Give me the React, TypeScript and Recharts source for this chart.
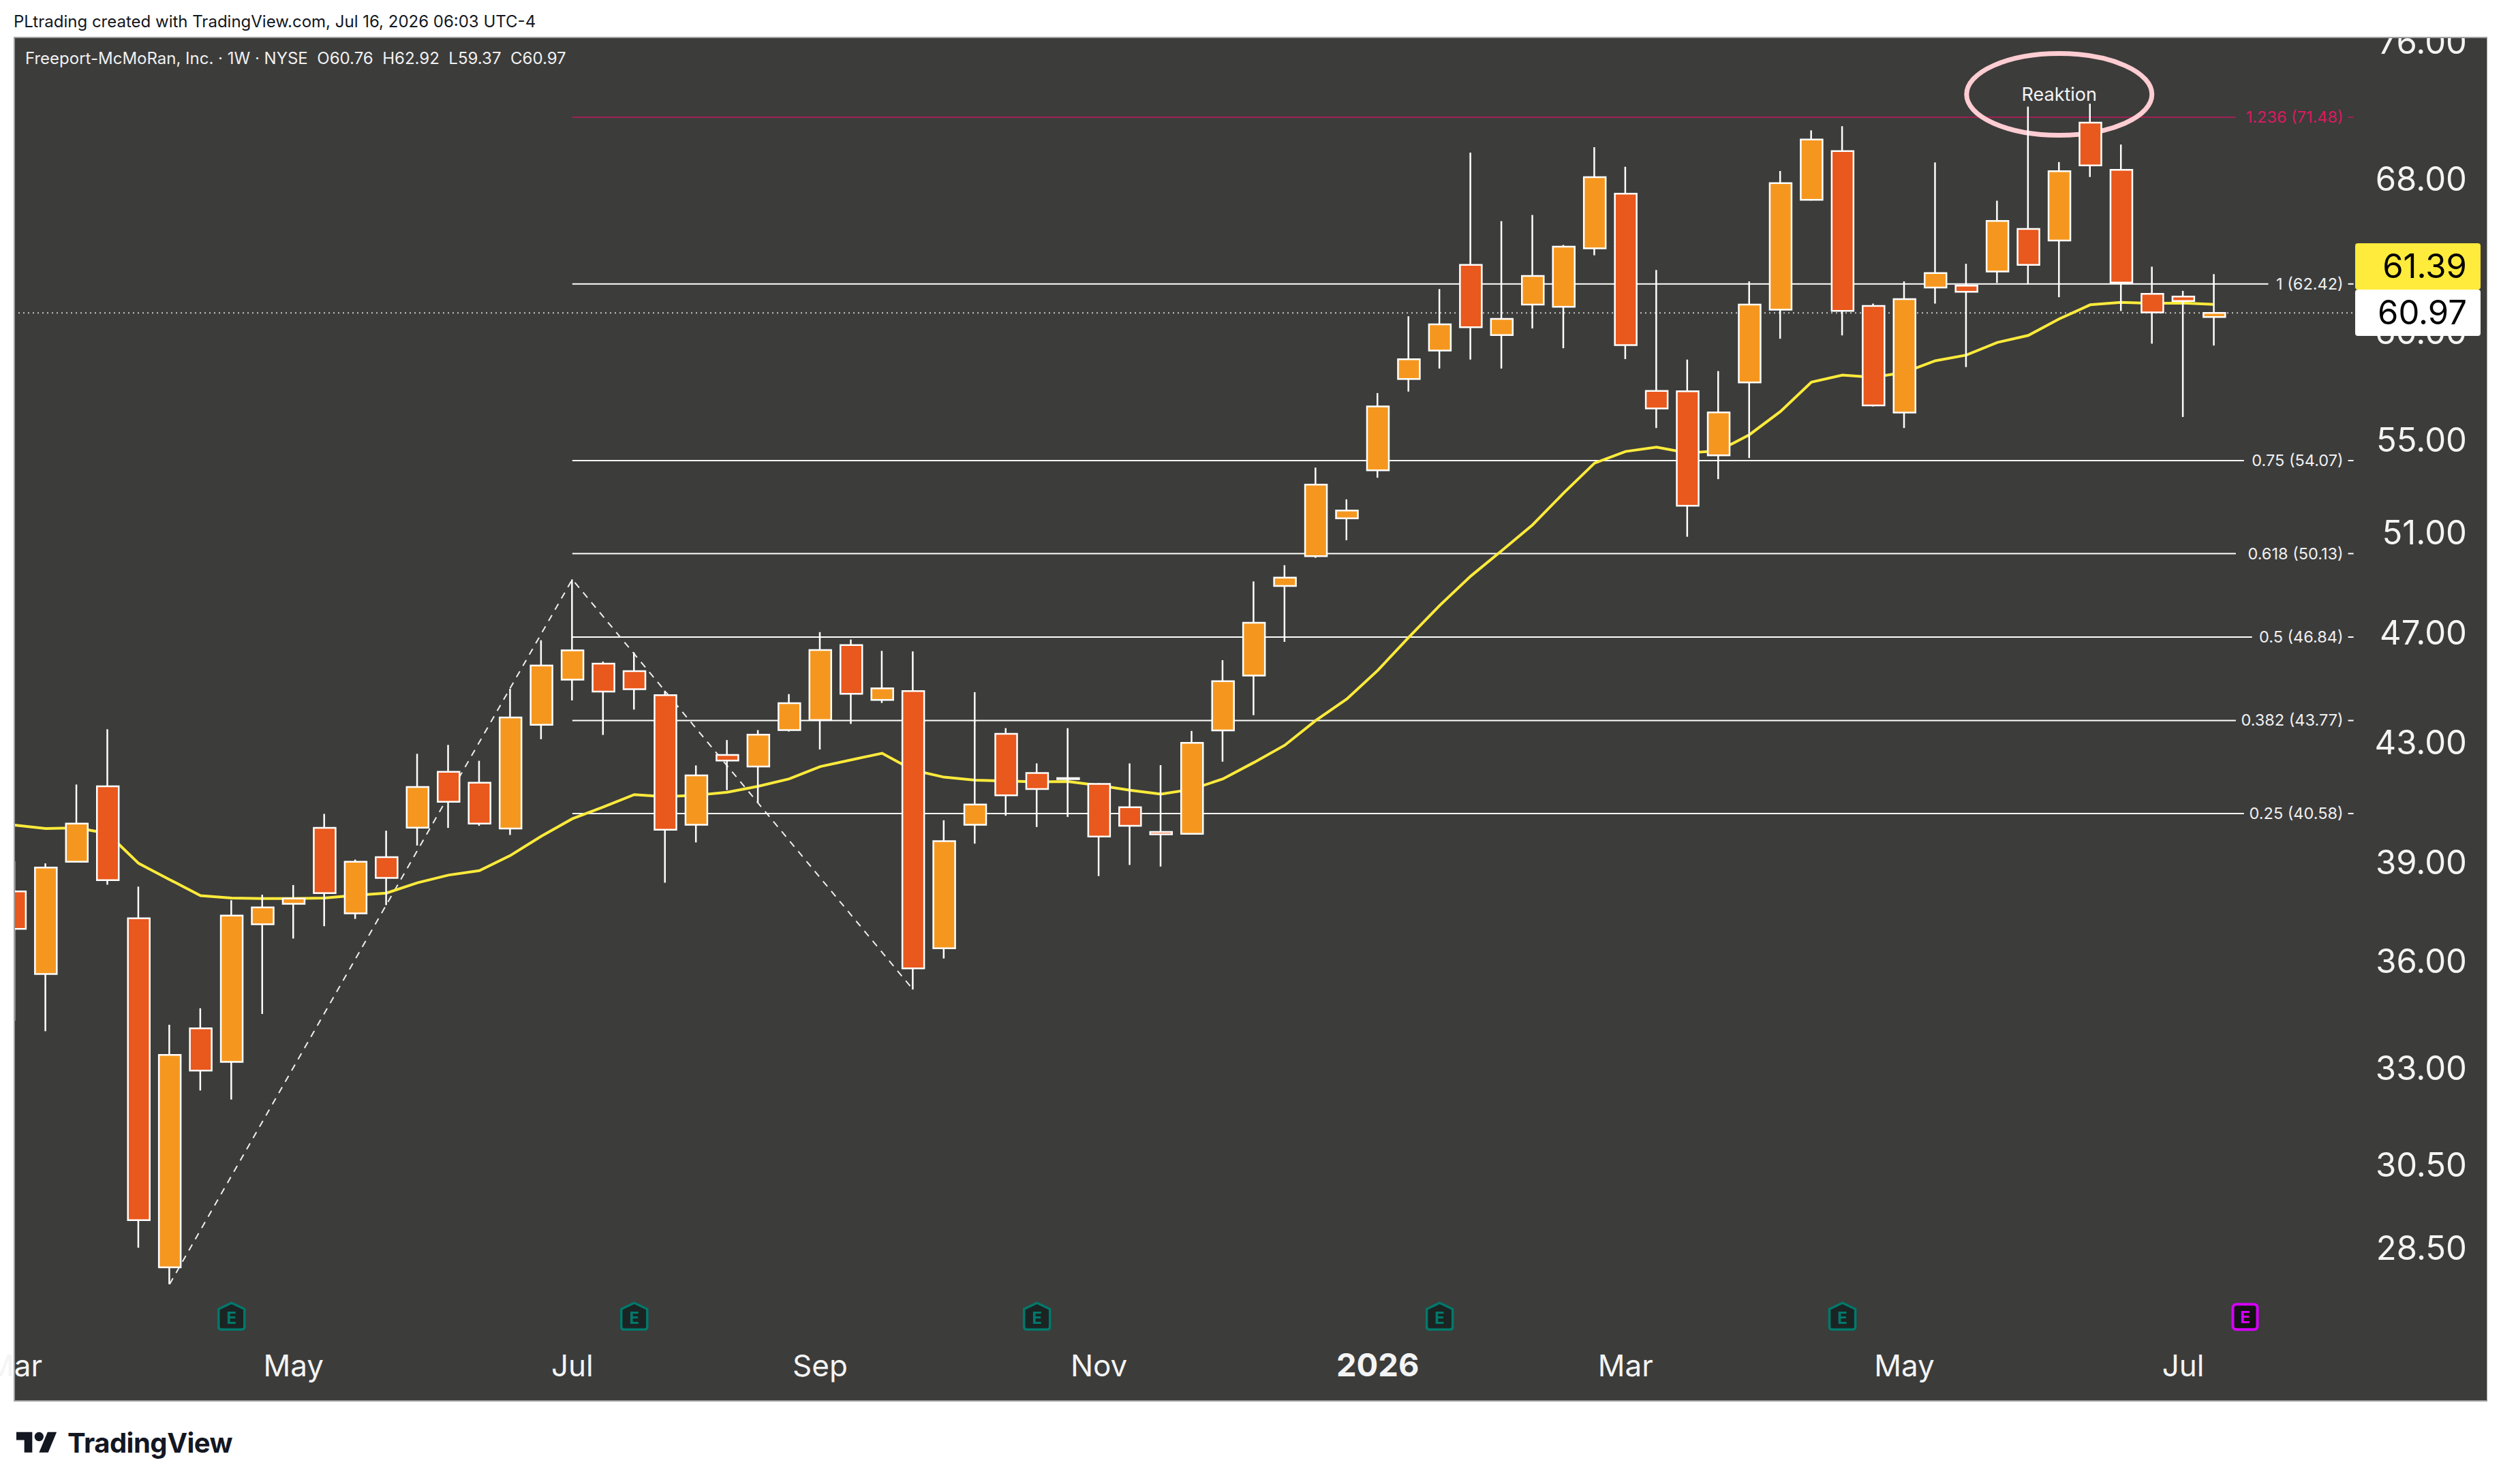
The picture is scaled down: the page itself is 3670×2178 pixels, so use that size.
import { Bar, Cell, ComposedChart, Line, ReferenceDot, ReferenceLine, XAxis, YAxis } from "recharts"

const opens = [38.09, 35.62, 39.02, 41.49, 37.27, 28.06, 34.08, 33.16, 37.09, 37.71, 40.11, 37.42, 39.17, 40.12, 41.98, 41.61, 40.09, 43.62, 45.25, 45.84, 45.56, 44.68, 40.21, 42.56, 42.16, 43.43, 43.79, 46.54, 44.51, 44.83, 36.37, 40.21, 43.30, 41.94, 41.73, 41.57, 40.79, 39.98, 39.92, 43.42, 45.40, 48.83, 50.03, 51.59, 53.64, 57.78, 59.13, 63.39, 59.88, 61.38, 61.27, 64.25, 67.17, 57.22, 57.20, 54.30, 57.62, 61.13, 66.84, 69.54, 61.31, 56.22, 62.24, 62.33, 63.05, 65.27, 64.66, 71.17, 68.49, 61.92, 61.78, 60.76]
const highs = [39.04, 38.97, 41.55, 43.46, 38.24, 34.18, 34.64, 37.82, 37.99, 38.29, 40.57, 39.09, 40.02, 42.60, 42.91, 42.36, 44.91, 46.72, 49.09, 45.92, 46.26, 44.84, 42.20, 43.08, 43.43, 44.72, 47.03, 46.75, 46.32, 46.30, 40.36, 44.79, 43.50, 42.27, 43.50, 41.60, 42.27, 42.21, 43.40, 45.97, 49.01, 49.66, 53.76, 52.39, 57.12, 60.80, 62.16, 69.45, 65.69, 66.02, 64.43, 69.76, 68.66, 63.13, 58.70, 58.15, 62.55, 68.42, 70.72, 70.96, 61.43, 62.55, 68.90, 63.45, 66.79, 72.10, 68.92, 72.27, 69.91, 63.30, 62.07, 62.92]
const lows = [34.29, 34.00, 39.00, 38.30, 28.51, 27.68, 32.40, 32.16, 34.48, 36.66, 37.03, 37.25, 37.67, 39.54, 40.11, 40.18, 39.88, 43.11, 44.49, 43.26, 44.16, 38.36, 39.64, 41.36, 40.95, 43.38, 42.75, 43.65, 44.40, 35.17, 36.07, 39.60, 40.51, 40.14, 40.47, 38.57, 38.92, 38.87, 39.90, 42.33, 43.96, 46.66, 49.96, 50.68, 53.32, 57.19, 58.27, 58.70, 58.27, 60.20, 59.24, 63.89, 58.72, 55.52, 50.82, 53.26, 54.18, 59.70, 66.80, 59.86, 56.50, 55.52, 61.43, 58.34, 62.47, 62.40, 61.75, 68.09, 61.06, 59.46, 56.02, 59.37]
const closes = [36.95, 38.84, 40.25, 38.44, 29.16, 33.35, 32.93, 37.35, 37.60, 37.87, 38.04, 39.02, 38.51, 41.47, 40.97, 40.25, 43.88, 45.77, 46.34, 44.81, 44.90, 40.05, 41.86, 42.37, 43.27, 44.39, 46.35, 44.73, 44.93, 35.78, 39.68, 40.88, 41.19, 41.40, 41.77, 39.83, 40.18, 39.90, 42.98, 45.19, 47.39, 49.16, 53.02, 51.92, 56.50, 58.71, 60.40, 60.26, 60.67, 62.83, 64.34, 68.08, 59.39, 56.41, 52.12, 56.23, 61.38, 67.75, 70.20, 61.07, 56.55, 61.65, 62.97, 62.02, 65.70, 63.39, 68.41, 68.73, 62.49, 60.99, 61.56, 60.97]
const average = [40.20, 40.09, 40.11, 39.93, 38.97, 38.46, 37.96, 37.89, 37.87, 37.87, 37.89, 37.97, 38.04, 38.36, 38.60, 38.74, 39.22, 39.84, 40.41, 40.80, 41.21, 41.14, 41.19, 41.29, 41.49, 41.74, 42.16, 42.39, 42.62, 42.04, 41.80, 41.70, 41.67, 41.64, 41.65, 41.52, 41.36, 41.23, 41.39, 41.74, 42.30, 42.90, 43.77, 44.54, 45.59, 46.83, 48.06, 49.22, 50.25, 51.32, 52.66, 53.96, 54.47, 54.66, 54.41, 54.50, 55.22, 56.27, 57.63, 57.96, 57.86, 58.09, 58.64, 58.91, 59.52, 59.86, 60.67, 61.37, 61.49, 61.44, 61.46, 61.39]

const swingWeeks = [5, 18, 29]
const swingPrices = [27.68, 49.09, 35.17]

const fibStart = 18
const fibEnd = 75.5
const fibPrices = [71.48, 62.42, 54.07, 50.13, 46.84, 43.77, 40.58]
const fibLabels = ["1.236 (71.48)", "1 (62.42)", "0.75 (54.07)", "0.618 (50.13)", "0.5 (46.84)", "0.382 (43.77)", "0.25 (40.58)"]

const priceTicks = [76, 68, 60, 55, 51, 47, 43, 39, 36, 33, 30.5, 28.5]
const monthWeeks = [0, 9, 18, 26, 35, 44, 52, 61, 70]
const monthLabels = ["Mar", "May", "Jul", "Sep", "Nov", "2026", "Mar", "May", "Jul"]
const earningsWeeks = [7, 20, 33, 46, 59]
const nextEarningsWeek = 72

const rows = opens.map((open, i) => {
  const swing = swingWeeks.indexOf(i)
  return {
    week: i,
    body: [Math.min(open, closes[i]), Math.max(open, closes[i])],
    wick: [lows[i], highs[i]],
    average: average[i],
    swing: swing >= 0 ? swingPrices[swing] : null,
  }
})

const FONT = "Inter, sans-serif"
const UP = "#F5971F"
const DOWN = "#E9581C"

function MonthTick({ x, payload }: any) {
  const label = monthLabels[monthWeeks.indexOf(payload.value)]
  return (
    <text x={x} y={2020} textAnchor="middle" fontFamily={FONT} fontSize={label === "2026" ? 47 : 44} fontWeight={label === "2026" ? 700 : 400} fill="#f4f4f4">
      {label}
    </text>
  )
}

function FibLabel({ viewBox, text, color }: any) {
  const end = viewBox.x + viewBox.width
  const w = 11.9 * text.length + 10
  return (
    <g>
      <rect x={end - 8 - w} y={viewBox.y - 14} width={w} height={28} fill="#3c3c3b" />
      <text x={end - 15} y={viewBox.y + 8} textAnchor="end" fontFamily={FONT} fontSize={23.5} fill={color}>
        {text}
      </text>
    </g>
  )
}

function PriceTag({ top, height, fill, text }: any) {
  return (
    <div style={{ position: "absolute", left: 3456, top, width: 184, height, background: fill, borderRadius: 4, zIndex: 2, color: "#000", fontSize: 49, lineHeight: `${height}px`, textAlign: "right", paddingRight: 20, boxSizing: "border-box" }}>
      {text}
    </div>
  )
}

function EarningsMark({ cx, cy }: any) {
  return (
    <g>
      <path
        d={`M${cx} ${cy - 20} L${cx + 19} ${cy - 11} L${cx + 19} ${cy + 15} Q${cx + 19} ${cy + 19} ${cx + 15} ${cy + 19} L${cx - 15} ${cy + 19} Q${cx - 19} ${cy + 19} ${cx - 19} ${cy + 15} L${cx - 19} ${cy - 11} Z`}
        fill="#1b2423"
        stroke="#00796B"
        strokeWidth={3.5}
      />
      <text x={cx} y={cy + 11} textAnchor="middle" fontFamily={FONT} fontSize={24} fontWeight={700} fill="#00796B">E</text>
    </g>
  )
}

function NextEarningsMark({ cx, cy }: any) {
  return (
    <g>
      <rect x={cx - 18} y={cy - 18} width={36} height={37} rx={5} fill="#131313" stroke="#D500F9" strokeWidth={4} />
      <text x={cx} y={cy + 10} textAnchor="middle" fontFamily={FONT} fontSize={24} fontWeight={700} fill="#D500F9">E</text>
    </g>
  )
}

function ReaktionNote({ cx, cy }: any) {
  return (
    <g>
      <ellipse cx={cx} cy={cy} rx={136} ry={60} fill="none" stroke="#FFCDD2" strokeWidth={7} />
      <text x={cx} y={cy + 9} textAnchor="middle" fontFamily={FONT} fontSize={27} fill="#f4f4f4">Reaktion</text>
    </g>
  )
}

export default function App() {
  return (
    <div style={{ position: "absolute", left: 0, top: 0, width: 3670, height: 2178, background: "#fff", overflow: "hidden", fontFamily: FONT }}>
      <div style={{ position: "absolute", left: 20, top: 54, width: 3630, height: 2003, background: "#3c3c3b" }} />
      <div style={{ position: "absolute", left: 0, top: 0, zIndex: 1 }}>
        <ComposedChart width={3670} height={2178} data={rows} margin={{ top: 54, right: 20, bottom: 121, left: 20 }}>
          <XAxis
            xAxisId="main"
            dataKey="week"
            type="number"
            scale="linear"
            domain={[-0.035, 79.82]}
            allowDataOverflow
            ticks={monthWeeks}
            interval={0}
            mirror
            tickLine={false}
            axisLine={false}
            tick={MonthTick}
          />
          <XAxis xAxisId="wicks" dataKey="week" type="number" scale="linear" domain={[-0.035, 79.82]} allowDataOverflow hide />
          <YAxis
            xAxisId="main"
            orientation="right"
            mirror
            scale="log"
            domain={[25.16, 76.31]}
            allowDataOverflow
            ticks={priceTicks}
            interval={0}
            tickLine={false}
            axisLine={false}
            tickSize={0}
            tickMargin={30}
            tickFormatter={(v: number) => v.toFixed(2)}
            tick={{ fill: "#f4f4f4", fontSize: 49, fontFamily: FONT }}
          />

          {fibPrices.map((price, i) => (
            <ReferenceLine
              key={fibLabels[i]}
              xAxisId="main"
              segment={[{ x: fibStart, y: price }, { x: fibEnd, y: price }]}
              stroke={i === 0 ? "#C2185B" : "#fff"}
              strokeWidth={i === 0 ? 1.5 : 2}
              zIndex={100}
              label={<FibLabel text={fibLabels[i]} color={i === 0 ? "#D81B60" : "#f0f0f0"} />}
            />
          ))}
          <ReferenceLine
            xAxisId="main"
            segment={[{ x: -0.035, y: 60.97 }, { x: 75.55, y: 60.97 }]}
            stroke="#c8c8c8"
            strokeWidth={2}
            strokeDasharray="2 5"
            zIndex={100}
          />
          <ReferenceDot xAxisId="main" x={66} y={72.82} shape={ReaktionNote} zIndex={150} />
          {earningsWeeks.map((week) => (
            <ReferenceDot key={week} xAxisId="main" x={week} y={26.96} shape={EarningsMark} />
          ))}
          <ReferenceDot xAxisId="main" x={nextEarningsWeek} y={26.96} shape={NextEarningsMark} />

          <Line xAxisId="main" dataKey="swing" connectNulls dot={false} stroke="#f0f0f0" strokeWidth={2} strokeDasharray="10 9" isAnimationActive={false} zIndex={180} />
          <Line xAxisId="main" dataKey="average" dot={false} stroke="#FFEB3B" strokeWidth={4} isAnimationActive={false} zIndex={190} />
          <Bar xAxisId="wicks" dataKey="wick" barSize={2.5} fill="#fff" isAnimationActive={false} />
          <Bar xAxisId="main" dataKey="body" barSize={32} stroke="#fff" strokeWidth={2.5} isAnimationActive={false}>
            {rows.map((row, i) => (
              <Cell key={row.week} fill={closes[i] >= opens[i] ? UP : DOWN} />
            ))}
          </Bar>
        </ComposedChart>
      </div>
      <PriceTag top={357} height={68} fill="#FFEB3B" text="61.39" />
      <PriceTag top={425} height={68} fill="#fff" text="60.97" />
      <div style={{ position: "absolute", left: 0, top: 0, width: 3670, height: 54, background: "#fff", zIndex: 2 }} />
      <div style={{ position: "absolute", left: 20, top: 54, width: 3630, height: 2003, boxSizing: "border-box", border: "2px solid #a0a0a0", borderRightWidth: 1, zIndex: 3 }} />
      <div style={{ position: "absolute", left: 20, top: 18, fontSize: 24, lineHeight: "28px", color: "#131722", zIndex: 4, whiteSpace: "nowrap" }}>
        PLtrading created with TradingView.com, Jul 16, 2026 06:03 UTC-4
      </div>
      <div style={{ position: "absolute", left: 37, top: 72, fontSize: 24, lineHeight: "28px", color: "#f0f0f0", zIndex: 4, whiteSpace: "pre" }}>
        {"Freeport-McMoRan, Inc. · 1W · NYSE  O60.76  H62.92  L59.37  C60.97"}
      </div>
      <svg style={{ position: "absolute", left: 24, top: 2095, zIndex: 4 }} width={60} height={47} viewBox="0 0 36 28" fill="#131722">
        <path d="M14 22H7V11H0V4h14v18zM28 22h-8l7.5-18h8L28 22z" />
        <circle cx="20" cy="8" r="4" />
      </svg>
      <div style={{ position: "absolute", left: 99, top: 2092, fontSize: 40, lineHeight: "52px", fontWeight: 700, color: "#131722", zIndex: 4, letterSpacing: -0.5 }}>
        TradingView
      </div>
    </div>
  )
}
